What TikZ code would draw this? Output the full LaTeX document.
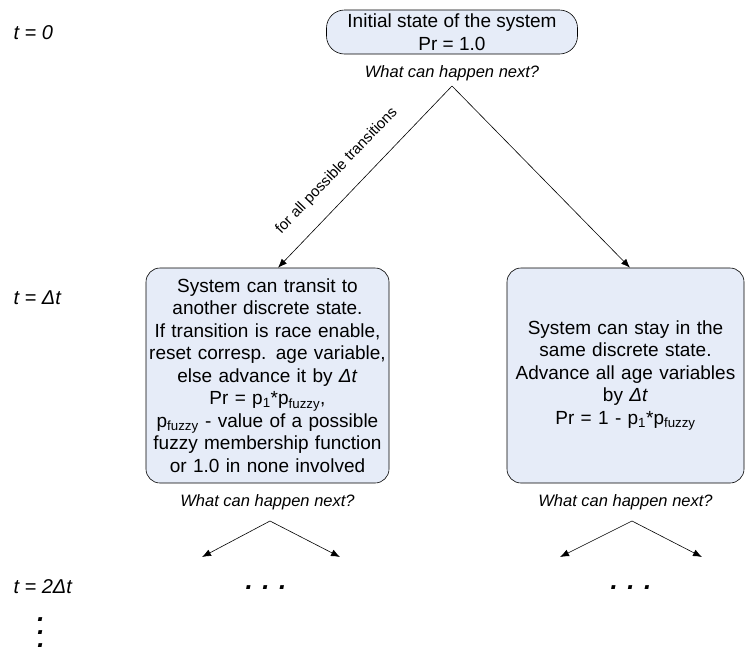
\documentclass[tikz,border=0pt]{standalone}
\usepackage{fontspec}
\setmainfont{Liberation Sans}
\usetikzlibrary{arrows.meta,calc}
\definecolor{statefill}{RGB}{230,236,248}

\begin{document}
\begin{tikzpicture}[x=1pt,y=-1pt,
    state/.style={draw, line width=0.6pt, fill=statefill, align=center, inner sep=2pt,
        font=\fontsize{19}{22.5}\selectfont},
    ask/.style={font=\fontsize{16.5}{19}\selectfont\itshape},
    tlabel/.style={anchor=west, font=\fontsize{20}{22}\selectfont\itshape},
    arr/.style={-{Latex[length=9pt,width=7pt]}, line width=0.6pt},
    dotsbig/.style={font=\fontsize{26}{13}\selectfont\bfseries\itshape, align=center}]
    \useasboundingbox (0,0) rectangle (745,654);

    \node[tlabel] (t0) at (10,33) {t = 0};
    \node[tlabel] (t1) at (10,298) {t = Δt};
    \node[tlabel] (t2) at (10,587) {t = 2Δt};

    \node[state, rounded corners=18pt, minimum width=251pt, minimum height=44pt] (init) at (452,32)
        {Initial state of the system\\Pr = 1.0};
    \node[ask] (ask0) at (452,73) {What can happen next?};
    \coordinate (split0) at (452,86);

    \node[state, rounded corners=14pt, text width=239pt, minimum height=215pt] (lbox) at (267.5,375.5)
        {System can transit to\\another discrete state.\\If transition is race enable,\\reset corresp. age variable,\\
         else advance it by \textit{Δt}\\Pr = p\textsubscript{1}*p\textsubscript{fuzzy},\\
         p\textsubscript{fuzzy} - value of a possible\\fuzzy membership function\\or 1.0 in none involved};
    \node[state, rounded corners=14pt, text width=233pt, minimum height=215pt] (rbox) at (625.5,375.5)
        {System can stay in the\\same discrete state.\\Advance all age variables\\by \textit{Δt}\\
         Pr = 1 - p\textsubscript{1}*p\textsubscript{fuzzy}};

    \draw[arr] (split0) -- node[sloped, above=14pt, pos=0.56, font=\fontsize{15}{17}\selectfont] (alltr)
        {for all possible transitions} ([xshift=10.5pt]lbox.north);
    \draw[arr] (split0) -- ([xshift=4.5pt]rbox.north);

    \node[ask] (askL) at (267.5,502) {What can happen next?};
    \node[ask] (askR) at (625.5,502) {What can happen next?};

    \coordinate (splitL) at (270,521);
    \coordinate (leafLa) at (202,557);
    \coordinate (leafLb) at (340,557);
    \coordinate (splitR) at (632,521);
    \coordinate (leafRa) at (560,557);
    \coordinate (leafRb) at (702,557);
    \draw[arr] (splitL) -- (leafLa);
    \draw[arr] (splitL) -- (leafLb);
    \draw[arr] (splitR) -- (leafRa);
    \draw[arr] (splitR) -- (leafRb);

    \node[dotsbig] (moreL) at (266,588) {. . .};
    \node[dotsbig] (moreR) at (631,588) {. . .};
    \node[dotsbig] (moreT) at (41,633) {.\\.\\.};
\end{tikzpicture}
\end{document}
